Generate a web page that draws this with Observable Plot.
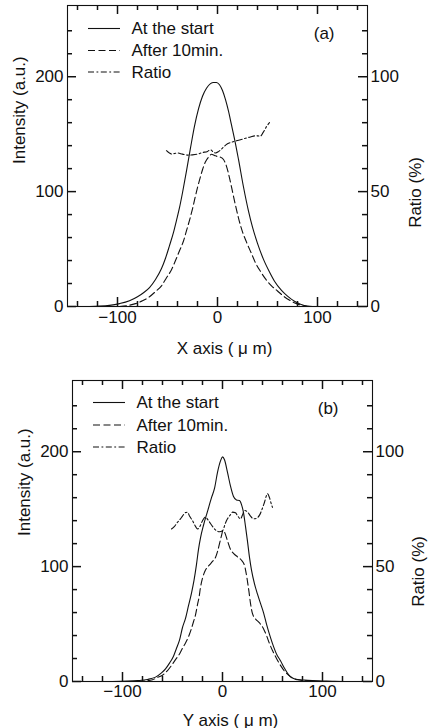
<!DOCTYPE html>
<html><head><meta charset="utf-8">
<script src="https://cdn.jsdelivr.net/npm/d3@7"></script>
<script src="https://cdn.jsdelivr.net/npm/@observablehq/plot@0.6"></script>
<style>
body{margin:0;background:#fff;}
#chart{width:429px;}
#chart svg{display:block;}
</style></head><body><div id="chart"></div>
<script>
// ---------- data ----------
const seriesNames = ["At the start", "After 10min.", "Ratio"];
const panelTags = ["(a)", "(b)"];
const xAxisLabels = ["X axis ( μ m)", "Y axis ( μ m)"];
const yLeftLabel = "Intensity (a.u.)";
const yRightLabel = "Ratio (%)";

const xDomain = [-150, 150];
const yDomain = [0, 262];
const xMajorTicks = [-100, 0, 100];
const xMinorTicks = [-140, -120, -80, -60, -40, -20, 20, 40, 60, 80, 120, 140];
const yMajorTicks = [0, 100, 200];           // right axis shows these as 0, 50, 100 %
const yMinorTicks = [20, 40, 60, 80, 120, 140, 160, 180, 220, 240];

// panel (a): X profile  [position µm, intensity a.u.]
const aStart = [[-128,0],[-118,0.3],[-108,1],[-98,2.5],[-88,5],[-80,8.5],[-74,12],[-68,16.5],[-62,23.5],[-56,33],[-52,42],[-48,53],[-44,64.5],[-41,75],[-38,86],[-35,99],[-31,118],[-27,138],[-23,157],[-19,172],[-15,183],[-11,190],[-7,194],[-4,195],[-1,195],[2,193],[5,188],[8,180],[11,170],[14,158],[17,146],[21,128],[26,104],[31,83],[35,69],[40,55],[46,41],[52,30],[57,22],[64,14],[70,9],[77,4.5],[83,2],[90,0.3],[95,0]];
const aAfter = [[-98,0],[-90,0.8],[-82,2.5],[-75,5],[-68,8.5],[-62,13],[-56,18],[-51,25],[-46,32],[-42,40],[-38,48.5],[-34,57],[-31,66],[-28,75],[-25,85],[-21,100],[-18,110],[-15,119],[-12,126],[-9,130],[-6,132.5],[-3,131.5],[0,130.5],[3,130],[6,128],[9,122],[12,112],[15,100],[18,88],[21,77],[25,65],[29,56],[34,46],[38,38],[43,30.5],[48,24],[54,18],[60,13.5],[66,9],[73,5],[79,2.5],[84,1],[90,0]];
// ratio in %
const aRatio = [[-51,67.8],[-46,66.4],[-40,66.8],[-35,66.3],[-30,65.9],[-25,66],[-20,66.3],[-15,67],[-10,67.5],[-7,68.2],[-4,67.2],[-2,66.8],[1,67.4],[4,68.5],[7,69.8],[10,70.8],[14,71.5],[18,72],[23,72.6],[28,73.2],[33,73.8],[38,74.3],[43,74.2],[46,76],[49,78.3],[52,80]];

// panel (b): Y profile
const bStart = [[-110,0],[-95,0.3],[-85,0.8],[-75,1.8],[-67,3.8],[-61,7.5],[-57,11],[-53,16],[-49,22],[-46,29],[-43,36],[-40,47],[-37,55],[-34,66],[-31,77],[-28.5,88],[-26,102],[-24,115],[-22,125],[-19,136],[-15,148],[-11,160],[-8,168],[-5,182],[-2,192],[0,195.5],[2,193],[5,182],[8,170],[11,161],[14,158],[17,157.5],[19,154],[21,147],[23,135],[25,122],[27,108],[29,97],[32,85],[35,76],[38,68],[41,60],[44,50],[47,41],[50,33],[54,24],[58,18],[62,11.5],[66,6],[70,3],[75,1.8],[82,1.2],[90,0.8],[100,0.5],[110,0.2],[120,0]];
const bAfter = [[-85,0],[-77,0.5],[-70,1.5],[-65,3.5],[-60,5.5],[-55,9.5],[-51,14],[-47,19],[-43,24],[-40,29],[-37,33.5],[-34,39],[-31.5,45],[-29,52],[-27,58],[-25,67],[-23.5,73],[-22,82],[-20,90],[-17,97],[-13,101.5],[-10,104.5],[-7,108],[-5,113],[-3,120],[-1,127],[0.5,131.5],[2,130],[5,122.5],[8,115],[11,111.5],[15,108.5],[19,105.5],[22,101],[23.5,95],[25,87],[26.5,78],[28,68],[30,59],[33,54.5],[37,51],[41,46],[44,40],[47,33],[50,27],[54,20],[58,14],[62,9],[66,5.5],[70,3],[75,1.5],[80,0.8],[88,0.3],[95,0]];
const bRatio = [[-51,66.4],[-48,67.5],[-45,69.3],[-42,70.8],[-40,72],[-37,73.5],[-35,73.7],[-33,72],[-30,70],[-27,67.5],[-25,66.4],[-22,68],[-20,70],[-17,71.5],[-14,70],[-10,67.5],[-6,65.6],[-3,65.2],[0,65.6],[3,69],[5,70.8],[8,72.6],[10,73.7],[13,73.4],[15,72.2],[18,70.8],[20,72.5],[22,74.4],[25,73.8],[28,72],[31,70.8],[34,71],[37,72.4],[40,75.5],[42,78],[45,81.7],[47,80],[49,77],[50,75.8]];

// ---------- drawing ----------
const ink = "#111";
const dashAfter = "7,3.5";
const dashRatio = "6,2.5,1.8,2.5";
const fmt = d3.format("d");
const W = 429, H = 364;
const minorLen = 5, majorLen = 9; // tick lengths in px

function panel(cfg) {
  const {start, after, ratio, tag, xLabel, m, lab} = cfg;
  const innerW = W - m[0] - m[1], innerH = H - m[2] - m[3];
  const ky = (yDomain[1] - yDomain[0]) / innerH;   // data units per px
  const kx = (xDomain[1] - xDomain[0]) / innerW;
  const ratioToLeft = r => r * 2; // right axis 0–131 % ↔ left 0–262
  const legendRows = lab.rows;
  const tk = {stroke: ink, strokeWidth: 1.5};
  const xt = (ticks, len) => [
    Plot.ruleX(ticks, {x: d => d, y1: yDomain[0], y2: yDomain[0] + len * ky, ...tk}),
    Plot.ruleX(ticks, {x: d => d, y1: yDomain[1] - len * ky, y2: yDomain[1], ...tk})
  ];
  const yt = (ticks, len) => [
    Plot.ruleY(ticks, {y: d => d, x1: xDomain[0], x2: xDomain[0] + len * kx, ...tk}),
    Plot.ruleY(ticks, {y: d => d, x1: xDomain[1] - len * kx, x2: xDomain[1], ...tk})
  ];
  const marks = [
    Plot.line(start, {x: d => d[0], y: d => d[1], stroke: ink, strokeWidth: 1.1, curve: "monotone-x"}),
    Plot.line(after, {x: d => d[0], y: d => d[1], stroke: ink, strokeWidth: 1.1, strokeDasharray: dashAfter, curve: "monotone-x"}),
    Plot.line(ratio, {x: d => d[0], y: d => ratioToLeft(d[1]), stroke: ink, strokeWidth: 1.1, strokeDasharray: dashRatio, curve: "monotone-x"}),
    Plot.frame({stroke: ink, strokeWidth: 1.1}),
    ...xt(xMinorTicks, minorLen), ...xt(xMajorTicks, majorLen),
    ...yt(yMinorTicks, minorLen), ...yt(yMajorTicks, majorLen),
    // tick labels
    Plot.axisX(xMajorTicks, {anchor: "bottom", tickSize: 0, tickPadding: lab.padB, tickFormat: fmt, fill: ink, label: null}),
    Plot.axisY(yMajorTicks, {anchor: "left", tickSize: 0, tickPadding: lab.padL, tickFormat: fmt, fill: ink, label: null}),
    Plot.axisY(yMajorTicks, {anchor: "right", tickSize: 0, tickPadding: lab.padR, tickFormat: d => fmt(d / 2), fill: ink, label: null}),
    // axis titles
    Plot.text([xLabel], {text: d => d, frameAnchor: "bottom", dx: lab.xdx, dy: lab.xdy, lineAnchor: "bottom", fill: ink}),
    Plot.text([yLeftLabel], {text: d => d, frameAnchor: "left", rotate: -90, dx: lab.ldx, dy: lab.ldy, fill: ink}),
    Plot.text([yRightLabel], {text: d => d, frameAnchor: "right", rotate: -90, dx: lab.rdx, dy: lab.rdy, fill: ink}),
    // panel tag
    Plot.text([tag], {text: d => d, frameAnchor: "top-right", dx: lab.tdx, dy: lab.tdy, lineAnchor: "top", fill: ink}),
    // legend labels
    ...seriesNames.map((name, i) => Plot.text([name], {text: d => d, frameAnchor: "top-left", dx: lab.legTextX, dy: legendRows[i], textAnchor: "start", lineAnchor: "middle", fill: ink}))
  ];
  const svg = Plot.plot({
    width: W, height: H,
    marginLeft: m[0], marginRight: m[1], marginTop: m[2], marginBottom: m[3],
    x: {domain: xDomain},
    y: {domain: yDomain},
    style: {fontFamily: "'Liberation Sans', Arial, Helvetica, sans-serif", fontSize: "17px", background: "#fff", color: ink, overflow: "visible"},
    marks
  });
  // legend line samples
  const g = d3.select(svg).append("g").attr("stroke", ink).attr("stroke-width", 1.1);
  const dashes = [null, dashAfter, dashRatio];
  legendRows.forEach((ry, i) => {
    g.append("line")
      .attr("x1", m[0] + lab.legLine[0]).attr("x2", m[0] + lab.legLine[1])
      .attr("y1", m[2] + ry).attr("y2", m[2] + ry)
      .attr("stroke-dasharray", dashes[i]);
  });
  return svg;
}

const chart = document.getElementById("chart");
chart.append(panel({
  start: aStart, after: aAfter, ratio: aRatio, tag: panelTags[0], xLabel: xAxisLabels[0],
  m: [67, 62, 5, 58],
  lab: {padB: 4.5, padL: 4, padR: 3, xdx: 7, xdy: 47, ldx: -48, ldy: 8, rdx: 48, rdy: 1, tdx: -33, tdy: 21,
        rows: [23.5, 45.5, 67], legTextX: 64, legLine: [21, 53]}
}));
chart.append(panel({
  start: bStart, after: bAfter, ratio: bRatio, tag: panelTags[1], xLabel: xAxisLabels[1],
  m: [72, 57, 16, 47],
  lab: {padB: 3, padL: 4, padR: 3, xdx: 8, xdy: 44, ldx: -48, ldy: 5, rdx: 46, rdy: 5, tdx: -34, tdy: 21,
        rows: [22.5, 45, 67], legTextX: 64, legLine: [21, 53]}
}));
</script></body></html>
